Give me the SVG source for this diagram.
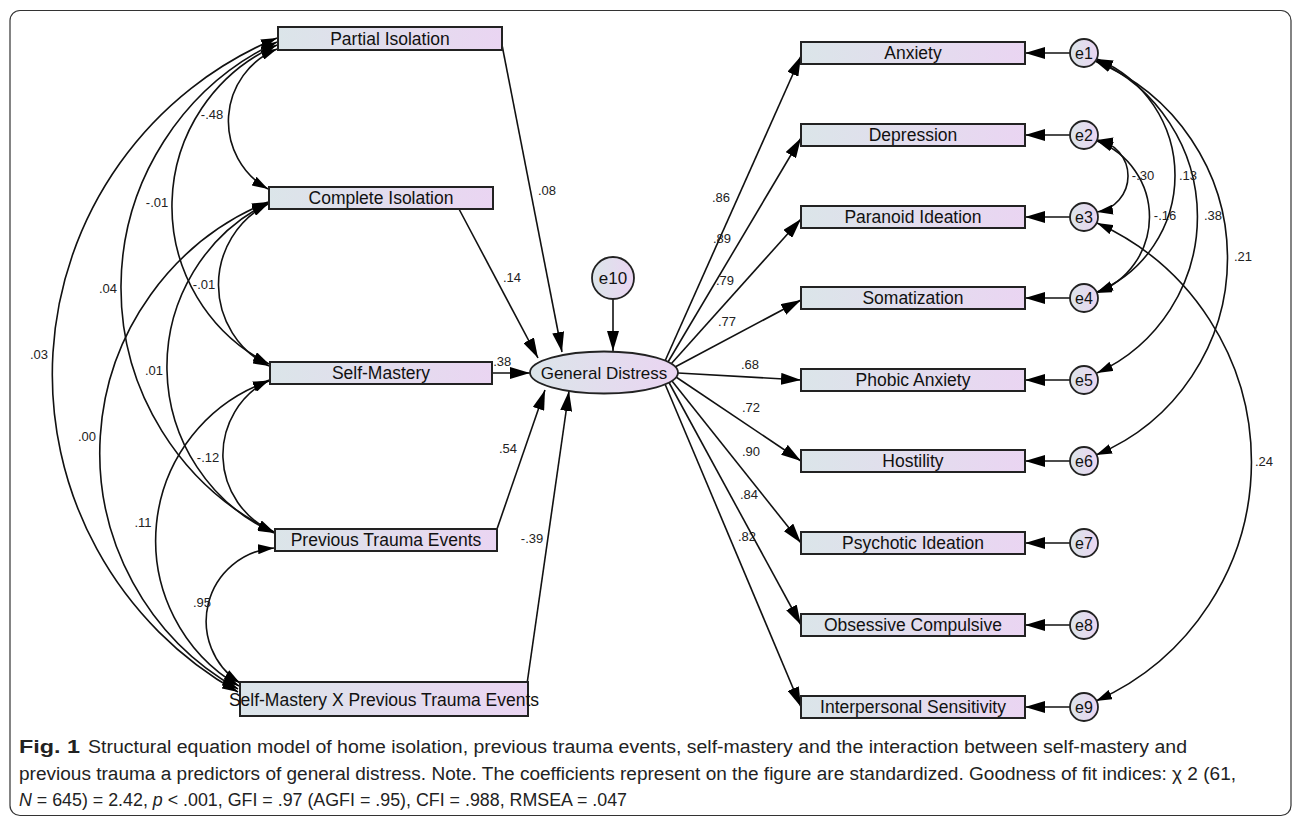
<svg xmlns="http://www.w3.org/2000/svg" width="1292" height="818" viewBox="0 0 1292 818">
<style>
.box{stroke:#222;stroke-width:2;fill:url(#g)}
.circ{stroke:#222;stroke-width:1.8;fill:url(#g)}
.lbl{font-family:"Liberation Sans",Arial,sans-serif;font-size:17.5px;fill:#111;text-anchor:middle}
.el{font-family:"Liberation Sans",Arial,sans-serif;font-size:16px;fill:#111;text-anchor:middle}
.cf{font-family:"Liberation Sans",Arial,sans-serif;font-size:13px;fill:#222;text-anchor:middle}
.ln{stroke:#111;stroke-width:1.6;fill:none;marker-end:url(#ah)}
.cv{stroke:#111;stroke-width:1.6;fill:none;marker-start:url(#ch);marker-end:url(#ch)}
.cap{font-family:"Liberation Sans",Arial,sans-serif;font-size:18px;fill:#222}
</style>
<defs>
<linearGradient id="g" x1="0" y1="0" x2="1" y2="0">
<stop offset="0" stop-color="#dbe5e9"/>
<stop offset="1" stop-color="#ead5f2"/>
</linearGradient>
<marker id="ah" viewBox="0 0 20 12" refX="20" refY="6" markerWidth="20" markerHeight="12" markerUnits="userSpaceOnUse" orient="auto">
<path d="M0,0 L20,6 L0,12 z" fill="#000"/>
</marker>
<marker id="ch" viewBox="0 0 16 10" refX="16" refY="5" markerWidth="16" markerHeight="10" markerUnits="userSpaceOnUse" orient="auto-start-reverse">
<path d="M0,0 L16,5 L0,10 z" fill="#000"/>
</marker>
</defs>
<rect x="10" y="10.5" width="1281" height="805" rx="10" fill="#fff" stroke="#333" stroke-width="1.2"/>

<g id="connectors">
<path class="cv" d="M277,49 A77.9,77.9 0 0 0 268,189"/>
<path class="cv" d="M277,45 A176.5,176.5 0 0 0 269,364"/>
<path class="cv" d="M277,42 A271.5,271.5 0 0 0 274,532"/>
<path class="cv" d="M277,38 A364.3,364.3 0 0 0 238,692"/>
<path class="cv" d="M268,204 A90.6,90.6 0 0 0 269,366"/>
<path class="cv" d="M268,203 A182.9,182.9 0 0 0 274,533"/>
<path class="cv" d="M268,202 A271,271 0 0 0 238,689"/>
<path class="cv" d="M269,380 A83.8,83.8 0 0 0 274,532"/>
<path class="cv" d="M269,381 A168.8,168.8 0 0 0 239,686"/>
<path class="cv" d="M274,548 A73.4,73.4 0 0 0 240,683"/>
<path class="ln" d="M502,45 L562,352"/>
<path class="ln" d="M459,209 L538,358"/>
<path class="ln" d="M492,373 L530,373"/>
<path class="ln" d="M497,529 L545,390"/>
<path class="ln" d="M527,684 L569,391"/>
<path class="ln" d="M613,299 L613,351"/>
<path class="ln" d="M665,361 L801,56"/>
<path class="ln" d="M668,362 L801,138"/>
<path class="ln" d="M671,364 L801,219"/>
<path class="ln" d="M675,367 L801,300"/>
<path class="ln" d="M678,373 L801,380"/>
<path class="ln" d="M676,377 L801,461"/>
<path class="ln" d="M672,381 L801,543"/>
<path class="ln" d="M669,382.5 L801,625"/>
<path class="ln" d="M665,384 L801,707"/>
<path class="ln" d="M1070,53 L1025,53"/>
<path class="ln" d="M1070,135 L1025,135"/>
<path class="ln" d="M1070,217 L1025,217"/>
<path class="ln" d="M1070,298 L1025,298"/>
<path class="ln" d="M1070,380 L1025,380"/>
<path class="ln" d="M1070,461 L1025,461"/>
<path class="ln" d="M1070,543 L1025,543"/>
<path class="ln" d="M1070,625 L1025,625"/>
<path class="ln" d="M1070,707 L1025,707"/>
<path class="cv" d="M1097,140 A36.4,36.4 0 0 1 1097,212"/>
<path class="cv" d="M1097,141 A81,81 0 0 1 1096,293"/>
<path class="cv" d="M1097,59 A126,126 0 0 1 1097,292"/>
<path class="cv" d="M1096,60 A171.8,171.8 0 0 1 1097,373"/>
<path class="cv" d="M1095,61 A213,213 0 0 1 1096,455"/>
<path class="cv" d="M1097,223 A261.8,261.8 0 0 1 1096,701"/>
</g>

<g id="coefficients">
<text class="cf" x="212" y="119">-.48</text>
<text class="cf" x="157" y="207">-.01</text>
<text class="cf" x="108" y="293">.04</text>
<text class="cf" x="204" y="289">-.01</text>
<text class="cf" x="39" y="359">.03</text>
<text class="cf" x="154" y="375">.01</text>
<text class="cf" x="87" y="441">.00</text>
<text class="cf" x="208" y="462">-.12</text>
<text class="cf" x="143" y="527">.11</text>
<text class="cf" x="202" y="607">.95</text>
<text class="cf" x="547" y="195">.08</text>
<text class="cf" x="512" y="282">.14</text>
<text class="cf" x="500" y="366">-.38</text>
<text class="cf" x="508" y="453">.54</text>
<text class="cf" x="532" y="543">-.39</text>
<text class="cf" x="721" y="202">.86</text>
<text class="cf" x="722" y="243">.89</text>
<text class="cf" x="725" y="285">.79</text>
<text class="cf" x="727" y="326">.77</text>
<text class="cf" x="750" y="369">.68</text>
<text class="cf" x="751" y="412">.72</text>
<text class="cf" x="751" y="456">.90</text>
<text class="cf" x="749" y="499">.84</text>
<text class="cf" x="747" y="541">.82</text>
<text class="cf" x="1143" y="180">-.30</text>
<text class="cf" x="1188" y="180">.13</text>
<text class="cf" x="1165" y="220">-.16</text>
<text class="cf" x="1213" y="220">.38</text>
<text class="cf" x="1243" y="261">.21</text>
<text class="cf" x="1264" y="466">.24</text>
</g>

<g id="partial-isolation"><rect class="box" x="278" y="27" width="224" height="23"/><text class="lbl" x="390" y="45">Partial Isolation</text></g>
<g id="complete-isolation"><rect class="box" x="269" y="187" width="224" height="22"/><text class="lbl" x="381" y="204">Complete Isolation</text></g>
<g id="self-mastery"><rect class="box" x="270" y="362" width="222" height="22"/><text class="lbl" x="381" y="379">Self-Mastery</text></g>
<g id="previous-trauma"><rect class="box" x="275" y="529" width="222" height="22"/><text class="lbl" x="386" y="546">Previous Trauma Events</text></g>
<g id="interaction"><rect class="box" x="240" y="682" width="288" height="34"/><text class="lbl" x="384" y="706">Self-Mastery X Previous Trauma Events</text></g>

<g id="general-distress"><ellipse class="circ" cx="604" cy="372.5" rx="74" ry="21"/><text class="lbl" x="604" y="378.5" style="font-size:17px">General Distress</text></g>
<g id="e10"><circle class="circ" cx="613" cy="278" r="21"/><text class="el" x="613" y="284" style="font-size:17px">e10</text></g>

<g id="anxiety"><rect class="box" x="801" y="42" width="224" height="22"/><text class="lbl" x="913" y="59">Anxiety</text></g>
<g id="depression"><rect class="box" x="801" y="124" width="224" height="22"/><text class="lbl" x="913" y="141">Depression</text></g>
<g id="paranoid"><rect class="box" x="801" y="206" width="224" height="22"/><text class="lbl" x="913" y="223">Paranoid Ideation</text></g>
<g id="somatization"><rect class="box" x="801" y="287" width="224" height="22"/><text class="lbl" x="913" y="304">Somatization</text></g>
<g id="phobic"><rect class="box" x="801" y="369" width="224" height="22"/><text class="lbl" x="913" y="386">Phobic Anxiety</text></g>
<g id="hostility"><rect class="box" x="801" y="450" width="224" height="22"/><text class="lbl" x="913" y="467">Hostility</text></g>
<g id="psychotic"><rect class="box" x="801" y="532" width="224" height="22"/><text class="lbl" x="913" y="549">Psychotic Ideation</text></g>
<g id="obsessive"><rect class="box" x="801" y="614" width="224" height="22"/><text class="lbl" x="913" y="631">Obsessive Compulsive</text></g>
<g id="interpersonal"><rect class="box" x="801" y="696" width="224" height="22"/><text class="lbl" x="913" y="713">Interpersonal Sensitivity</text></g>

<g id="e1"><circle class="circ" cx="1084" cy="53" r="14"/><text class="el" x="1084" y="59">e1</text></g>
<g id="e2"><circle class="circ" cx="1084" cy="135" r="14"/><text class="el" x="1084" y="141">e2</text></g>
<g id="e3"><circle class="circ" cx="1084" cy="217" r="14"/><text class="el" x="1084" y="223">e3</text></g>
<g id="e4"><circle class="circ" cx="1084" cy="298" r="14"/><text class="el" x="1084" y="304">e4</text></g>
<g id="e5"><circle class="circ" cx="1084" cy="380" r="14"/><text class="el" x="1084" y="386">e5</text></g>
<g id="e6"><circle class="circ" cx="1084" cy="461" r="14"/><text class="el" x="1084" y="467">e6</text></g>
<g id="e7"><circle class="circ" cx="1084" cy="543" r="14"/><text class="el" x="1084" y="549">e7</text></g>
<g id="e8"><circle class="circ" cx="1084" cy="625" r="14"/><text class="el" x="1084" y="631">e8</text></g>
<g id="e9"><circle class="circ" cx="1084" cy="707" r="14"/><text class="el" x="1084" y="713">e9</text></g>

<g id="caption">
<text class="cap" x="19" y="753" font-weight="bold" textLength="61" lengthAdjust="spacingAndGlyphs">Fig. 1</text>
<text class="cap" x="88" y="753" textLength="1099" lengthAdjust="spacingAndGlyphs">Structural equation model of home isolation, previous trauma events, self-mastery and the interaction between self-mastery and</text>
<text class="cap" x="19" y="780" textLength="1217" lengthAdjust="spacingAndGlyphs">previous trauma a predictors of general distress. Note. The coefficients represent on the figure are standardized. Goodness of fit indices: χ 2 (61,</text>
<text class="cap" x="19" y="806" textLength="608" lengthAdjust="spacingAndGlyphs"><tspan font-style="italic">N</tspan> = 645) = 2.42, <tspan font-style="italic">p</tspan> &lt; .001, GFI = .97 (AGFI = .95), CFI = .988, RMSEA = .047</text>
</g>
</svg>
